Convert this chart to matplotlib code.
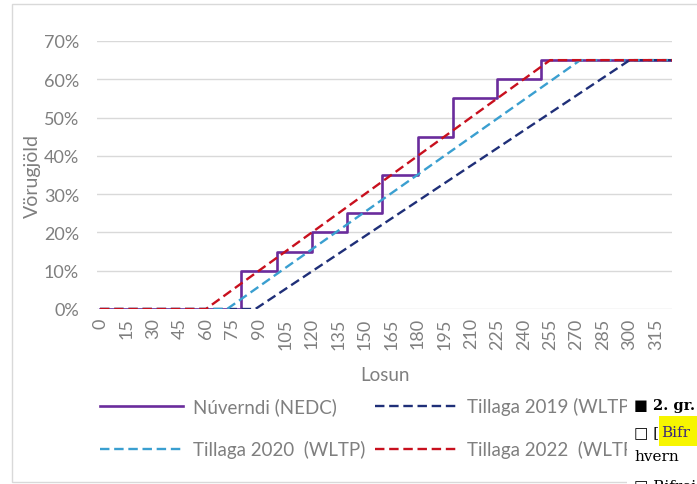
import numpy as np
import matplotlib
matplotlib.use("Agg")
import matplotlib.pyplot as plt
from matplotlib.patches import Rectangle
from matplotlib.ticker import PercentFormatter

plt.rcParams["font.family"] = ["Lato", "DejaVu Sans"]

# --- data (emissions g/km -> excise duty %) ---------------------------------
nedc_x = [0, 80, 100, 120, 140, 160, 180, 200, 225, 250, 325]
nedc_y = [0, 10, 15, 20, 25, 35, 45, 55, 60, 65, 65]

wltp2019_x = [0, 88, 300, 325]
wltp2019_y = [0, 0, 65, 65]

wltp2020_x = [0, 72, 272, 325]
wltp2020_y = [0, 0, 65, 65]

wltp2022_x = [0, 60, 255, 325]
wltp2022_y = [0, 0, 65, 65]

labels = ["Núverndi (NEDC)", "Tillaga 2019 (WLTP)",
          "Tillaga 2020  (WLTP)", "Tillaga 2022  (WLTP)"]
x_ticks = list(range(0, 316, 15))
y_ticks = [0, 10, 20, 30, 40, 50, 60, 70]

GREY = "#7f7f7f"
W, H = 697, 485

fig = plt.figure(figsize=(W / 100, H / 100), dpi=100)

# outer chart border
fig.patches.append(Rectangle((12 / W, 1 - 483 / H), 1.0, (483 - 5) / H,
                             transform=fig.transFigure, facecolor="white",
                             edgecolor="#d9d9d9", lw=1.0, zorder=-5))

ax = fig.add_axes([97 / W, 1 - 310 / H, (672 - 97) / W, (310 - 42) / H])
ax.set_facecolor("none")
ax.set_zorder(1)

dash = (0, (4, 2))
l1, = ax.plot(nedc_x, nedc_y, drawstyle="steps-post", color="#6a2c9c",
              lw=1.9, label=labels[0], zorder=3)
l2, = ax.plot(wltp2019_x, wltp2019_y, color="#1f2f78", lw=1.7,
              linestyle=dash, label=labels[1], zorder=4)
l3, = ax.plot(wltp2020_x, wltp2020_y, color="#3a9fd0", lw=1.7,
              linestyle=dash, label=labels[2], zorder=5)
l4, = ax.plot(wltp2022_x, wltp2022_y, color="#c8101e", lw=1.7,
              linestyle=dash, label=labels[3], zorder=6)

ax.set_xlim(-1.7, 324)
ax.set_ylim(0, 70)
ax.set_yticks(y_ticks)
ax.set_xticks(x_ticks)
ax.yaxis.set_major_formatter(PercentFormatter(xmax=100, decimals=0))
ax.grid(axis="y", color="#d9d9d9", lw=1.0, zorder=0)
ax.set_axisbelow(True)
for s in ax.spines.values():
    s.set_visible(False)
ax.tick_params(axis="both", length=0, colors=GREY, labelsize=13)
ax.tick_params(axis="y", pad=13)
ax.tick_params(axis="x", pad=6, labelrotation=90)

ax.set_xlabel("Losun", color=GREY, fontsize=13.5, va="center")
ax.xaxis.set_label_coords(0.5, -(376 - 310) / 268)
ax.set_ylabel("Vörugjöld", color=GREY, fontsize=14, va="center")
ax.yaxis.set_label_coords((32 - 97) / 575, 0.5)

leg = fig.legend(handles=[l1, l3, l2, l4],
                 labels=[labels[0], labels[2], labels[1], labels[3]],
                 ncol=2, loc="upper left", frameon=False,
                 bbox_to_anchor=(100 / W, 1 - 398 / H),
                 fontsize=13.5, handlelength=4.4, handletextpad=0.55,
                 columnspacing=0.5, labelspacing=1.35, borderpad=0,
                 borderaxespad=0)
for t in leg.get_texts():
    t.set_color(GREY)

# overlapping document fragment (bottom right of the screenshot)
fig.patches.append(Rectangle((627 / W, 0), 1.0, (H - 392) / H,
                             transform=fig.transFigure, facecolor="white",
                             edgecolor="none", zorder=10))
fig.patches.append(Rectangle((659 / W, 1 - 447 / H), 1.0, 30 / H,
                             transform=fig.transFigure, facecolor="#f7f500",
                             edgecolor="none", zorder=11))
serif = ["DejaVu Serif", "DejaVu Sans"]
fig.text(634 / W, 1 - 406 / H, "■ 2. gr.", family=serif, fontsize=10.5,
         fontweight="bold", va="center", ha="left", zorder=12)
fig.text(634 / W, 1 - 433 / H, "□ [", family=serif, fontsize=11,
         va="center", ha="left", zorder=12)
fig.text(661 / W, 1 - 433 / H, "Bifr", family=serif, fontsize=11,
         color="#3b2a7a", va="center", ha="left", zorder=12)
fig.text(634 / W, 1 - 457 / H, "hvern", family=serif, fontsize=11,
         va="center", ha="left", zorder=12)
fig.text(634 / W, 1 - 486 / H, "□ Bifrei", family=serif, fontsize=11,
         va="center", ha="left", zorder=12)

fig.savefig("out.png", dpi=100)
